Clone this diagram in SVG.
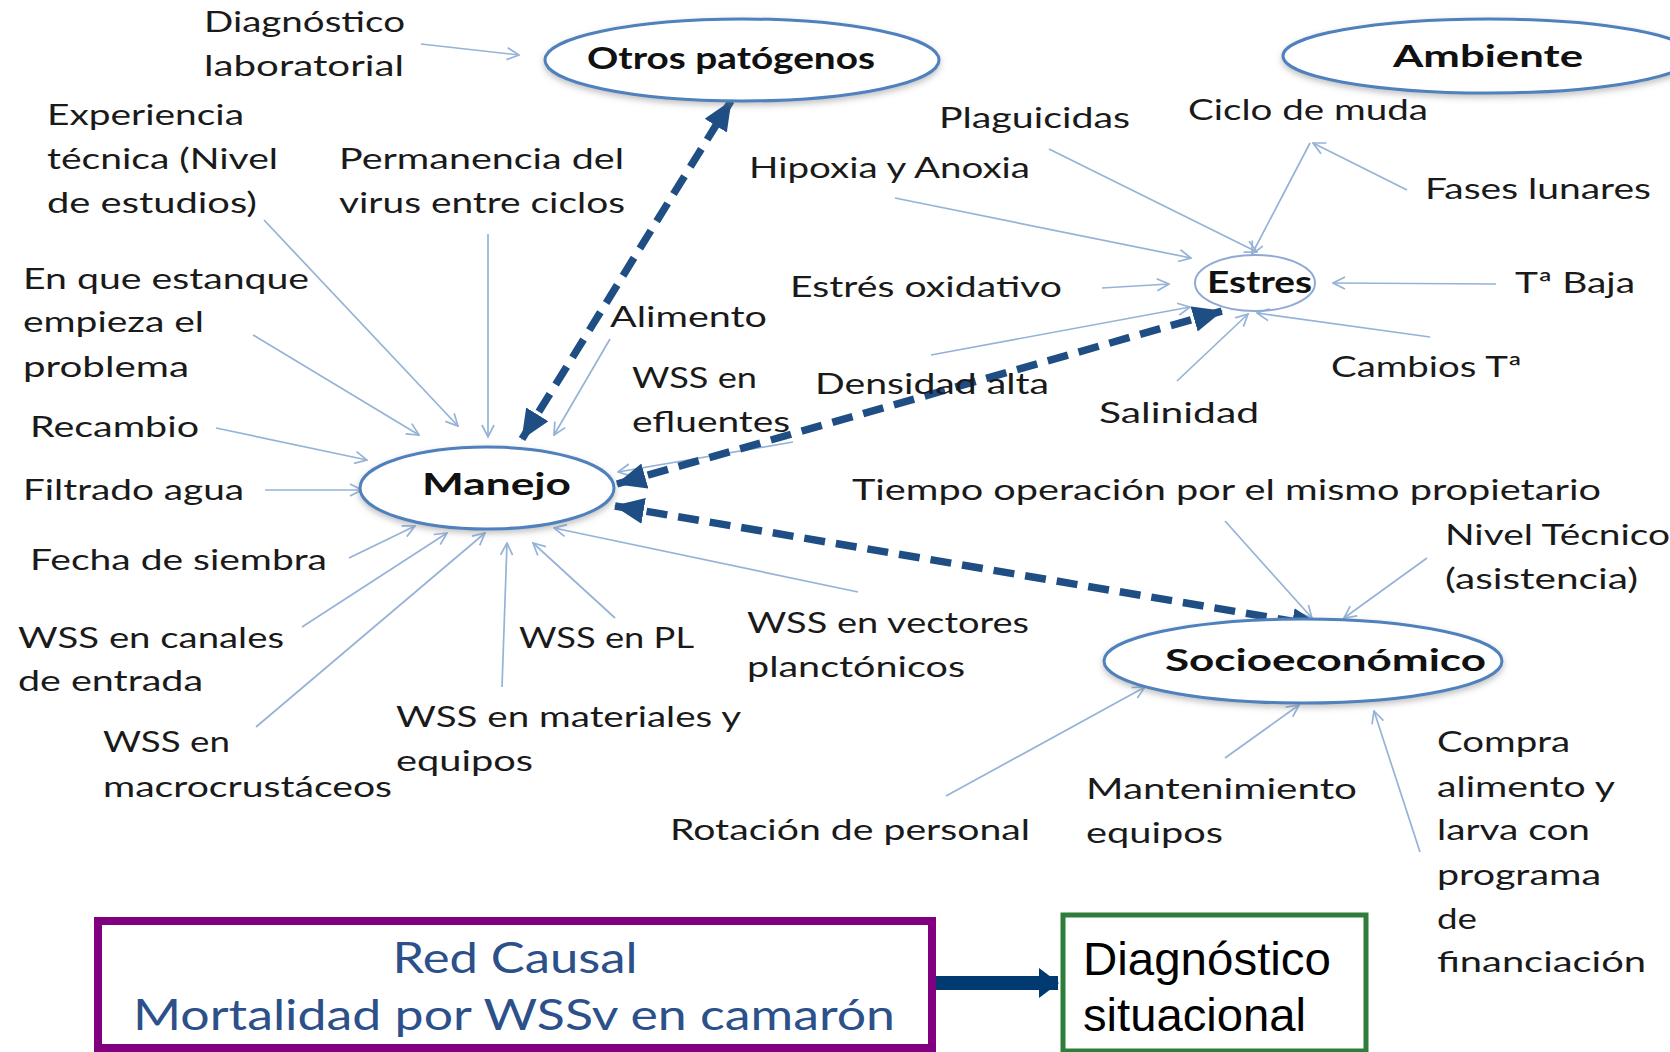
<svg xmlns="http://www.w3.org/2000/svg" width="1670" height="1052" viewBox="0 0 1670 1052">
<style>
.t{font-family:Lato,"Open Sans","DejaVu Sans",sans-serif;font-size:29px;fill:#1a1a1a}
.b{font-weight:bold;font-size:31px;fill:#111}
.el{fill:#fff;stroke:#4F81BD;stroke-width:3;filter:url(#sh)}
.thin{stroke:#95B3D7;stroke-width:1.7;fill:none;marker-end:url(#oa)}
.dash{stroke:#1F4E85;stroke-width:7.5;stroke-dasharray:21 11;fill:none;marker-start:url(#fa);marker-end:url(#fa)}
</style>
<defs>
<filter id="sh" x="-10%" y="-20%" width="120%" height="150%">
<feDropShadow dx="0" dy="3" stdDeviation="3" flood-color="#777" flood-opacity="0.45"/>
</filter>
<marker id="oa" viewBox="0 0 14 14" refX="13" refY="7" markerWidth="14" markerHeight="14" markerUnits="userSpaceOnUse" orient="auto">
<path d="M1,1 L13,7 L1,13" fill="none" stroke="#95B3D7" stroke-width="1.7"/>
</marker>
<marker id="fa" viewBox="0 0 30 26" refX="29" refY="13" markerWidth="30" markerHeight="26" markerUnits="userSpaceOnUse" orient="auto-start-reverse">
<path d="M0,0 L30,13 L0,26 Z" fill="#1F4E85"/>
</marker>
<marker id="ba" viewBox="0 0 20 30" refX="19" refY="15" markerWidth="20" markerHeight="30" markerUnits="userSpaceOnUse" orient="auto">
<path d="M0,0 L20,15 L0,30 Z" fill="#003A70"/>
</marker>
</defs>
<rect width="1670" height="1052" fill="#fff"/>

<g id="connectors">
<line class="thin" x1="421" y1="44" x2="519" y2="55"/>
<line class="thin" x1="1049" y1="149" x2="1257" y2="252"/>
<line class="thin" x1="895" y1="198" x2="1191" y2="258"/>
<line class="thin" x1="1310" y1="143" x2="1252" y2="254"/>
<line class="thin" x1="1407" y1="190" x2="1313" y2="143"/>
<line class="thin" x1="1102" y1="288" x2="1169" y2="284"/>
<line class="thin" x1="1496" y1="284" x2="1333" y2="283"/>
<line class="thin" x1="1430" y1="337" x2="1257" y2="313"/>
<line class="thin" x1="1177" y1="381" x2="1248" y2="314"/>
<line class="thin" x1="931" y1="355" x2="1190" y2="307"/>
<line class="thin" x1="793" y1="442" x2="618" y2="472"/>
<line class="thin" x1="264" y1="220" x2="458" y2="426"/>
<line class="thin" x1="253" y1="335" x2="419" y2="435"/>
<line class="thin" x1="488" y1="234" x2="488" y2="437"/>
<line class="thin" x1="610" y1="339" x2="554" y2="435"/>
<line class="thin" x1="216" y1="428" x2="367" y2="460"/>
<line class="thin" x1="265" y1="490" x2="362" y2="490"/>
<line class="thin" x1="349" y1="558" x2="415" y2="526"/>
<line class="thin" x1="302" y1="627" x2="447" y2="533"/>
<line class="thin" x1="256" y1="727" x2="485" y2="533"/>
<line class="thin" x1="502" y1="687" x2="507" y2="543"/>
<line class="thin" x1="615" y1="618" x2="533" y2="543"/>
<line class="thin" x1="858" y1="592" x2="554" y2="528"/>
<line class="thin" x1="1225" y1="521" x2="1312" y2="618"/>
<line class="thin" x1="1427" y1="558" x2="1344" y2="618"/>
<line class="thin" x1="946" y1="796" x2="1145" y2="687"/>
<line class="thin" x1="1225" y1="758" x2="1299" y2="705"/>
<line class="thin" x1="1420" y1="852" x2="1374" y2="711"/>
<line class="dash" x1="522" y1="439" x2="731" y2="101"/>
<line class="dash" x1="617" y1="484" x2="1222" y2="311"/>
<line class="dash" x1="615" y1="506" x2="1321" y2="626"/>
<line x1="934" y1="983" x2="1058" y2="983" stroke="#003A70" stroke-width="14" marker-end="url(#ba)"/>
</g>

<g id="otros"><ellipse class="el" cx="742" cy="60" rx="197" ry="41"/><text class="t b" x="587" y="69" textLength="288" lengthAdjust="spacingAndGlyphs">Otros patógenos</text></g>
<g id="ambiente"><ellipse class="el" cx="1488" cy="56" rx="205" ry="37"/><text class="t b" x="1393" y="67" font-size="34" textLength="190" lengthAdjust="spacingAndGlyphs">Ambiente</text></g>
<g id="estres"><ellipse cx="1255" cy="283" rx="60" ry="28" fill="none" stroke="#8FA9D3" stroke-width="2"/><text class="t b" x="1207" y="293" textLength="105" lengthAdjust="spacingAndGlyphs">Estres</text></g>
<g id="manejo"><ellipse class="el" cx="487" cy="488" rx="127" ry="41"/><text class="t b" x="422" y="495" font-size="33" textLength="149" lengthAdjust="spacingAndGlyphs">Manejo</text></g>
<g id="socio"><ellipse class="el" cx="1303" cy="661" rx="199" ry="42"/><text class="t b" x="1165" y="671" font-size="33" textLength="321" lengthAdjust="spacingAndGlyphs">Socioeconómico</text></g>

<g id="labels">
<text class="t" x="204" y="32" textLength="201" lengthAdjust="spacingAndGlyphs">Diagnóstico</text>
<text class="t" x="204" y="76" textLength="200" lengthAdjust="spacingAndGlyphs">laboratorial</text>
<text class="t" x="47" y="125" textLength="197" lengthAdjust="spacingAndGlyphs">Experiencia</text>
<text class="t" x="47" y="169" textLength="231" lengthAdjust="spacingAndGlyphs">técnica (Nivel</text>
<text class="t" x="47" y="213" textLength="210" lengthAdjust="spacingAndGlyphs">de estudios)</text>
<text class="t" x="339" y="169" textLength="285" lengthAdjust="spacingAndGlyphs">Permanencia del</text>
<text class="t" x="339" y="213" textLength="286" lengthAdjust="spacingAndGlyphs">virus entre ciclos</text>
<text class="t" x="939" y="128" textLength="191" lengthAdjust="spacingAndGlyphs">Plaguicidas</text>
<text class="t" x="749" y="178" textLength="281" lengthAdjust="spacingAndGlyphs">Hipoxia y Anoxia</text>
<text class="t" x="1188" y="120" textLength="240" lengthAdjust="spacingAndGlyphs">Ciclo de muda</text>
<text class="t" x="1425" y="199" textLength="226" lengthAdjust="spacingAndGlyphs">Fases lunares</text>
<text class="t" x="23" y="289" textLength="286" lengthAdjust="spacingAndGlyphs">En que estanque</text>
<text class="t" x="23" y="332" textLength="181" lengthAdjust="spacingAndGlyphs">empieza el</text>
<text class="t" x="23" y="377" textLength="166" lengthAdjust="spacingAndGlyphs">problema</text>
<text class="t" x="790" y="297" textLength="272" lengthAdjust="spacingAndGlyphs">Estrés oxidativo</text>
<text class="t" x="1515" y="293" textLength="120" lengthAdjust="spacingAndGlyphs">Tª Baja</text>
<text class="t" x="610" y="327" textLength="157" lengthAdjust="spacingAndGlyphs">Alimento</text>
<text class="t" x="632" y="388" textLength="125" lengthAdjust="spacingAndGlyphs">WSS en</text>
<text class="t" x="632" y="432" textLength="158" lengthAdjust="spacingAndGlyphs">efluentes</text>
<text class="t" x="815" y="394" textLength="234" lengthAdjust="spacingAndGlyphs">Densidad alta</text>
<text class="t" x="1099" y="423" textLength="160" lengthAdjust="spacingAndGlyphs">Salinidad</text>
<text class="t" x="1331" y="377" textLength="191" lengthAdjust="spacingAndGlyphs">Cambios Tª</text>
<text class="t" x="30" y="437" textLength="169" lengthAdjust="spacingAndGlyphs">Recambio</text>
<text class="t" x="23" y="500" textLength="221" lengthAdjust="spacingAndGlyphs">Filtrado agua</text>
<text class="t" x="852" y="500" textLength="749" lengthAdjust="spacingAndGlyphs">Tiempo operación por el mismo propietario</text>
<text class="t" x="1445" y="545" textLength="225" lengthAdjust="spacingAndGlyphs">Nivel Técnico</text>
<text class="t" x="1445" y="589" textLength="193" lengthAdjust="spacingAndGlyphs">(asistencia)</text>
<text class="t" x="30" y="570" textLength="297" lengthAdjust="spacingAndGlyphs">Fecha de siembra</text>
<text class="t" x="18" y="648" textLength="266" lengthAdjust="spacingAndGlyphs">WSS en canales</text>
<text class="t" x="18" y="691" textLength="185" lengthAdjust="spacingAndGlyphs">de entrada</text>
<text class="t" x="519" y="648" textLength="175" lengthAdjust="spacingAndGlyphs">WSS en PL</text>
<text class="t" x="747" y="633" textLength="282" lengthAdjust="spacingAndGlyphs">WSS en vectores</text>
<text class="t" x="747" y="677" textLength="218" lengthAdjust="spacingAndGlyphs">planctónicos</text>
<text class="t" x="103" y="752" textLength="127" lengthAdjust="spacingAndGlyphs">WSS en</text>
<text class="t" x="103" y="797" textLength="289" lengthAdjust="spacingAndGlyphs">macrocrustáceos</text>
<text class="t" x="396" y="727" textLength="345" lengthAdjust="spacingAndGlyphs">WSS en materiales y</text>
<text class="t" x="396" y="771" textLength="137" lengthAdjust="spacingAndGlyphs">equipos</text>
<text class="t" x="670" y="840" textLength="360" lengthAdjust="spacingAndGlyphs">Rotación de personal</text>
<text class="t" x="1086" y="799" textLength="271" lengthAdjust="spacingAndGlyphs">Mantenimiento</text>
<text class="t" x="1086" y="843" textLength="137" lengthAdjust="spacingAndGlyphs">equipos</text>
<text class="t" x="1437" y="752" textLength="133" lengthAdjust="spacingAndGlyphs">Compra</text>
<text class="t" x="1437" y="797" textLength="178" lengthAdjust="spacingAndGlyphs">alimento y</text>
<text class="t" x="1437" y="840" textLength="153" lengthAdjust="spacingAndGlyphs">larva con</text>
<text class="t" x="1437" y="885" textLength="164" lengthAdjust="spacingAndGlyphs">programa</text>
<text class="t" x="1437" y="929" textLength="40" lengthAdjust="spacingAndGlyphs">de</text>
<text class="t" x="1437" y="972" textLength="209" lengthAdjust="spacingAndGlyphs">financiación</text>
</g>

<g id="red-causal">
<rect x="98" y="921" width="834" height="127" fill="#fff" stroke="#800080" stroke-width="8"/>
<text x="515" y="973" text-anchor="middle" font-family="Lato,sans-serif" font-size="43" fill="#2C5089" textLength="245" lengthAdjust="spacingAndGlyphs">Red Causal</text>
<text x="133" y="1030" font-family="Lato,sans-serif" font-size="43" fill="#2C5089" textLength="762" lengthAdjust="spacingAndGlyphs">Mortalidad por WSSv en camarón</text>
</g>
<g id="diagnostico">
<rect x="1063" y="915" width="303" height="136" fill="#fff" stroke="#2E7D3A" stroke-width="5"/>
<text x="1083" y="975" font-family="'Liberation Sans',Arial,sans-serif" font-size="46" fill="#000" textLength="248" lengthAdjust="spacingAndGlyphs">Diagnóstico</text>
<text x="1083" y="1031" font-family="'Liberation Sans',Arial,sans-serif" font-size="46" fill="#000" textLength="223" lengthAdjust="spacingAndGlyphs">situacional</text>
</g>
</svg>
